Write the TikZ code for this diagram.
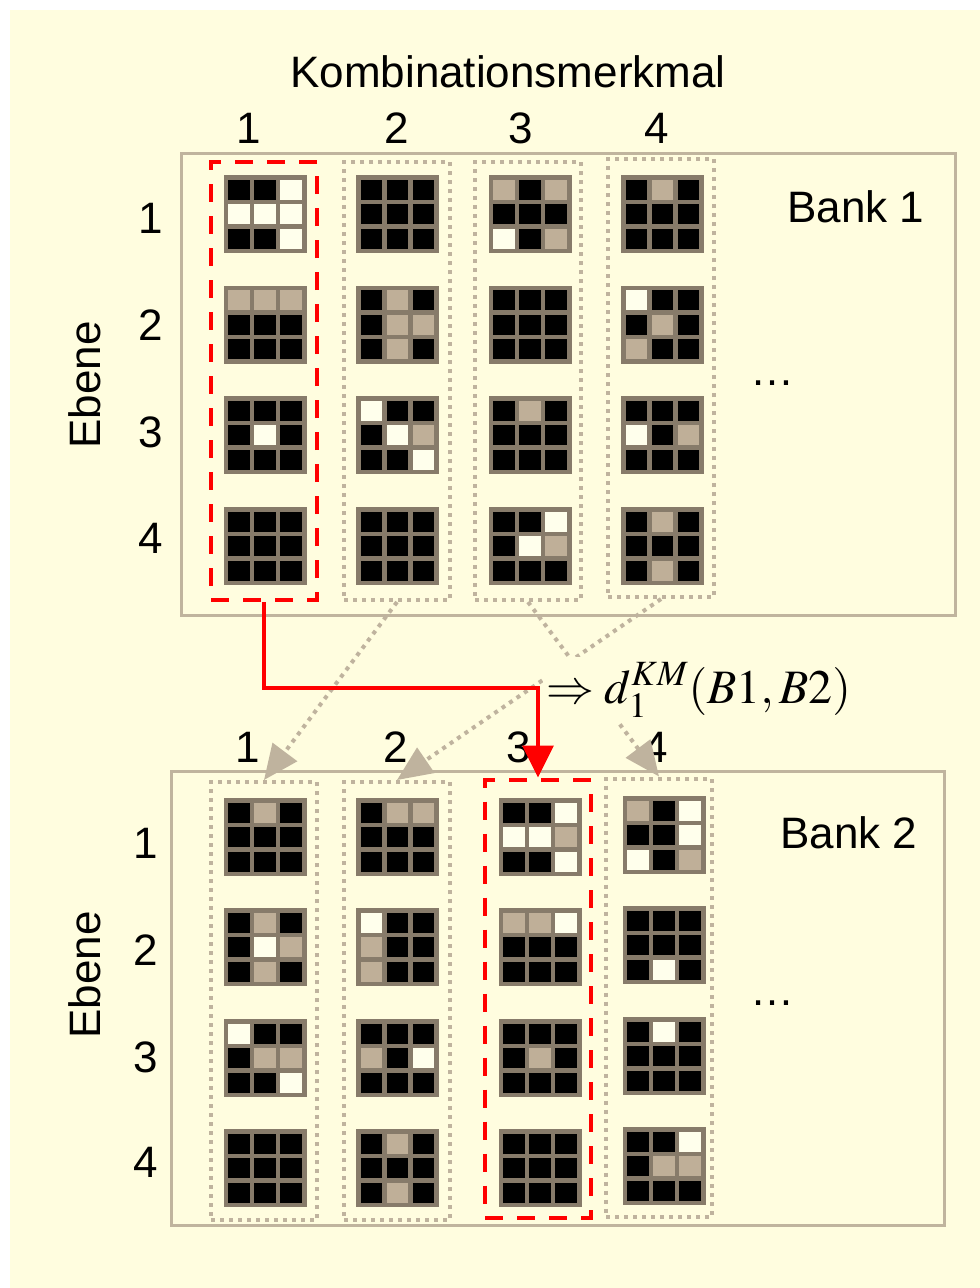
\documentclass[tikz,border=0pt]{standalone}
\usepackage{mathptmx}
\usepackage{fontspec}
\setmainfont{Liberation Sans}
\usetikzlibrary{arrows.meta,positioning}
\definecolor{bgyellow}{HTML}{FFFDDF}
\definecolor{frametan}{HTML}{C0B49E}
\definecolor{gridline}{HTML}{877B6A}
\definecolor{kmB}{HTML}{000000}
\definecolor{kmW}{HTML}{FFFFEC}
\definecolor{kmT}{HTML}{BFAF98}
\definecolor{dotgray}{HTML}{BFB39E}
\tikzset{
  every node/.style={font=\fontsize{44}{50}\selectfont,text=black},
  bankframe/.style={draw=frametan,line width=3pt},
  kmbox/.style={draw=dotgray,line width=4pt,dash pattern=on 4pt off 5pt,minimum width=106pt,minimum height=438pt,inner sep=0},
  redbox/.style={kmbox,draw=red,dash pattern=on 18pt off 14pt},
  grayarr/.style={draw=dotgray,line width=4pt,dash pattern=on 4pt off 5pt,-{Triangle[length=35pt,width=30pt,fill=dotgray]}},
  redarr/.style={draw=red,line width=3.5pt,-{Triangle[length=32pt,width=31pt,fill=red]}}
}
% 3x3 Kachel: Mitte x, Mitte y, Zellen zeilenweise (B/W/T)
\newcommand{\kachel}[3]{%
  \begin{scope}[shift={(#1,#2)}]
    \fill[gridline] (-41.5,-39) rectangle (41.5,39);
    \foreach \c [count=\i from 0] in {#3} {
      \pgfmathsetmacro{\zx}{-36.8+26*mod(\i,3)}
      \pgfmathsetmacro{\zy}{-34.5+24.7*floor(\i/3)}
      \fill[fill=km\c] (\zx,\zy) rectangle ++(21.6,20);
    }
  \end{scope}}

\begin{document}
\begin{tikzpicture}[x=1pt,y=-1pt]
  \path[use as bounding box] (0,0) rectangle (980,1288);
  \fill[bgyellow] (10,10) rectangle (980,1288);

  \node (titel) at (508,72) {Kombinationsmerkmal};

  % Bank 1
  \draw[bankframe] (181,153) rectangle (955,615);
  \node (bank1) at (856,207) {Bank 1};
  \node[redbox] (b1k1) at (264,381) {};
  \node[kmbox] (b1k2) at (397,381) {};
  \node[kmbox] (b1k3) at (528,381) {};
  \node[kmbox] (b1k4) at (661,378) {};
  \foreach \x/\n in {249/1,397/2,521/3,657/4} {\node (b1c\n) at (\x,128) {\n};}
  \foreach \y/\n in {218/1,325/2,432/3,538/4} {\node (b1e\n) at (151,\y) {\n};}
  \node[rotate=90] (b1ebene) at (85,385) {Ebene};
  \node (b1dots) at (772,383) {…};

  \kachel{265}{214}{B,B,W,W,W,W,B,B,W}
  \kachel{265}{324.5}{T,T,T,B,B,B,B,B,B}
  \kachel{265}{435}{B,B,B,B,W,B,B,B,B}
  \kachel{265}{546}{B,B,B,B,B,B,B,B,B}
  \kachel{397.5}{214}{B,B,B,B,B,B,B,B,B}
  \kachel{397.5}{324.5}{B,T,B,B,T,T,B,T,B}
  \kachel{397.5}{435}{W,B,B,B,W,T,B,B,W}
  \kachel{397.5}{546}{B,B,B,B,B,B,B,B,B}
  \kachel{530}{214}{T,B,T,B,B,B,W,B,T}
  \kachel{530}{324.5}{B,B,B,B,B,B,B,B,B}
  \kachel{530}{435}{B,T,B,B,B,B,B,B,B}
  \kachel{530}{546}{B,B,W,B,W,T,B,B,B}
  \kachel{662.5}{214}{B,T,B,B,B,B,B,B,B}
  \kachel{662.5}{324.5}{W,B,B,B,T,B,T,B,B}
  \kachel{662.5}{435}{B,B,B,W,B,T,B,B,B}
  \kachel{662.5}{546}{B,T,B,B,B,B,B,T,B}

  % Bank 2
  \draw[bankframe] (171,771) rectangle (944,1225);
  \node (bank2) at (849,833) {Bank 2};
  \node[kmbox] (b2k1) at (264,1001) {};
  \node[kmbox] (b2k2) at (397,1001) {};
  \node[redbox] (b2k3) at (538,998.5) {};
  \node[kmbox] (b2k4) at (659,997.5) {};
  \foreach \x/\n in {248/1,396/2,519/3,656/4} {\node (b2c\n) at (\x,747) {\n};}
  \foreach \y/\n in {843/1,950/2,1057/3,1162/4} {\node (b2e\n) at (146,\y) {\n};}
  \node[rotate=90] (b2ebene) at (85,975) {Ebene};
  \node (b2dots) at (772,1003) {…};

  \kachel{265}{837}{B,T,B,B,B,B,B,B,B}
  \kachel{265}{947}{B,T,B,B,W,T,B,T,B}
  \kachel{265}{1058}{W,B,B,B,T,T,B,B,W}
  \kachel{265}{1168}{B,B,B,B,B,B,B,B,B}
  \kachel{397.5}{837}{B,T,T,B,B,B,B,B,B}
  \kachel{397.5}{947}{W,B,B,T,B,B,T,B,B}
  \kachel{397.5}{1058}{B,B,B,T,B,W,B,B,B}
  \kachel{397.5}{1168}{B,T,B,B,B,B,B,T,B}
  \kachel{540}{837}{B,B,W,W,W,T,B,B,W}
  \kachel{540}{947}{T,T,W,B,B,B,B,B,B}
  \kachel{540}{1058}{B,B,B,B,T,B,B,B,B}
  \kachel{540}{1168}{B,B,B,B,B,B,B,B,B}
  \kachel{664}{835}{T,B,W,B,B,W,W,B,T}
  \kachel{664}{945}{B,B,B,B,B,B,B,W,B}
  \kachel{664}{1056}{B,W,B,B,B,B,B,B,B}
  \kachel{664}{1166}{B,B,W,B,T,T,B,B,B}

  % Zuordnung der Kombinationsmerkmale
  \draw[grayarr] (b1k2.south) -- (b2k1.north);
  \draw[grayarr] (b1k3.south) -- (b2k4.north);
  \draw[grayarr] (b1k4.south) -- (b2k2.north);
  \node[anchor=west,fill=bgyellow,inner xsep=3pt,inner ysep=6pt,font=\fontsize{48}{56}\selectfont] (dist) at (543,690) {$\Rightarrow d_1^{KM}(B1,B2)$};
  \coordinate (knick) at (264,688);
  \draw[redarr] (b1k1.south) -- (knick) -| (b2k3.north);
\end{tikzpicture}
\end{document}
